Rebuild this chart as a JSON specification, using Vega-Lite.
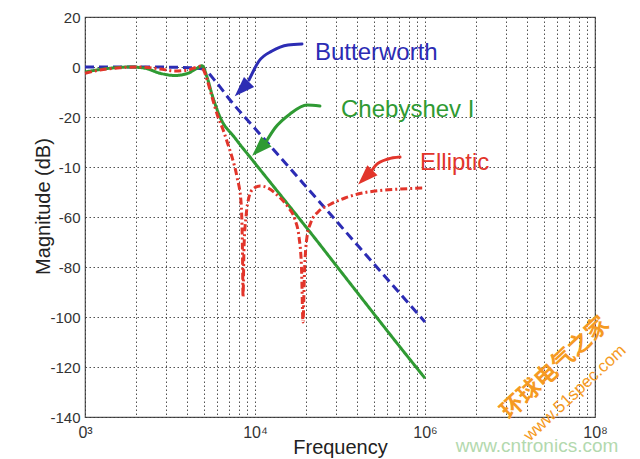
{
  "$schema": "https://vega.github.io/schema/vega-lite/v6.json",
  "width": 510,
  "height": 400,
  "autosize": {"type": "none"},
  "padding": {"left": 85, "top": 17, "right": 45, "bottom": 42},
  "background": "white",
  "config": {"view": {"stroke": "#555", "strokeWidth": 1.2}, "font": "Liberation Sans"},
  "datasets": {
    "curves": [
      {"series": "Butterworth", "f": 1000, "db": 0},
      {"series": "Butterworth", "f": 2412, "db": 0},
      {"series": "Butterworth", "f": 4146, "db": -0.3},
      {"series": "Butterworth", "f": 4946, "db": -0.8},
      {"series": "Butterworth", "f": 5818, "db": -5.5},
      {"series": "Butterworth", "f": 7129, "db": -13.2},
      {"series": "Butterworth", "f": 10000, "db": -24.6},
      {"series": "Butterworth", "f": 14033, "db": -36},
      {"series": "Butterworth", "f": 24125, "db": -54.2},
      {"series": "Butterworth", "f": 41460, "db": -72.4},
      {"series": "Butterworth", "f": 71290, "db": -90.6},
      {"series": "Butterworth", "f": 100000, "db": -102},
      {"series": "Chebyshev I", "f": 1000, "db": -2},
      {"series": "Chebyshev I", "f": 1225, "db": -1},
      {"series": "Chebyshev I", "f": 1502, "db": -0.3},
      {"series": "Chebyshev I", "f": 1839, "db": 0},
      {"series": "Chebyshev I", "f": 2254, "db": -0.5},
      {"series": "Chebyshev I", "f": 2762, "db": -2.5},
      {"series": "Chebyshev I", "f": 3384, "db": -3.4},
      {"series": "Chebyshev I", "f": 4036, "db": -2.5},
      {"series": "Chebyshev I", "f": 4560, "db": -0.5},
      {"series": "Chebyshev I", "f": 4879, "db": 0.5},
      {"series": "Chebyshev I", "f": 5220, "db": -4},
      {"series": "Chebyshev I", "f": 5587, "db": -11},
      {"series": "Chebyshev I", "f": 6226, "db": -20},
      {"series": "Chebyshev I", "f": 7627, "db": -28.4},
      {"series": "Chebyshev I", "f": 10000, "db": -38.5},
      {"series": "Chebyshev I", "f": 14033, "db": -51},
      {"series": "Chebyshev I", "f": 21062, "db": -66},
      {"series": "Chebyshev I", "f": 36220, "db": -86.5},
      {"series": "Chebyshev I", "f": 71290, "db": -112},
      {"series": "Chebyshev I", "f": 100000, "db": -124.5},
      {"series": "Elliptic", "f": 1000, "db": -2.5},
      {"series": "Elliptic", "f": 1225, "db": -1.2},
      {"series": "Elliptic", "f": 1607, "db": -0.3},
      {"series": "Elliptic", "f": 2106, "db": 0},
      {"series": "Elliptic", "f": 2762, "db": -0.8},
      {"series": "Elliptic", "f": 3384, "db": -1.6},
      {"series": "Elliptic", "f": 4146, "db": -1},
      {"series": "Elliptic", "f": 4749, "db": 0.3},
      {"series": "Elliptic", "f": 5012, "db": -1.5},
      {"series": "Elliptic", "f": 5220, "db": -5},
      {"series": "Elliptic", "f": 5587, "db": -12},
      {"series": "Elliptic", "f": 6060, "db": -20},
      {"series": "Elliptic", "f": 6483, "db": -25},
      {"series": "Elliptic", "f": 6937, "db": -31},
      {"series": "Elliptic", "f": 7324, "db": -36},
      {"series": "Elliptic", "f": 7836, "db": -44},
      {"series": "Elliptic", "f": 8276, "db": -54},
      {"series": "Elliptic", "f": 8445, "db": -75},
      {"series": "Elliptic", "f": 8502, "db": -92},
      {"series": "Elliptic", "f": 8617, "db": -72},
      {"series": "Elliptic", "f": 8853, "db": -60},
      {"series": "Elliptic", "f": 9220, "db": -52},
      {"series": "Elliptic", "f": 9730, "db": -48.8},
      {"series": "Elliptic", "f": 10700, "db": -47.6},
      {"series": "Elliptic", "f": 11930, "db": -48.4},
      {"series": "Elliptic", "f": 13660, "db": -51.5},
      {"series": "Elliptic", "f": 15640, "db": -56},
      {"series": "Elliptic", "f": 17190, "db": -61},
      {"series": "Elliptic", "f": 18150, "db": -68},
      {"series": "Elliptic", "f": 18770, "db": -80},
      {"series": "Elliptic", "f": 19160, "db": -102},
      {"series": "Elliptic", "f": 19550, "db": -82},
      {"series": "Elliptic", "f": 20220, "db": -68},
      {"series": "Elliptic", "f": 21350, "db": -62},
      {"series": "Elliptic", "f": 23480, "db": -58},
      {"series": "Elliptic", "f": 27620, "db": -55},
      {"series": "Elliptic", "f": 33840, "db": -52.4},
      {"series": "Elliptic", "f": 41460, "db": -50.6},
      {"series": "Elliptic", "f": 54370, "db": -49.4},
      {"series": "Elliptic", "f": 71290, "db": -48.8},
      {"series": "Elliptic", "f": 100000, "db": -48.4}
    ],
    "arrows": [
      {"series": "Butterworth", "f": 18900, "db": 9.2},
      {"series": "Butterworth", "f": 15640, "db": 8.8},
      {"series": "Butterworth", "f": 12590, "db": 6.4},
      {"series": "Butterworth", "f": 10560, "db": 2.4},
      {"series": "Butterworth", "f": 9220, "db": -5.2},
      {"series": "Chebyshev I", "f": 24100, "db": -15.6},
      {"series": "Chebyshev I", "f": 20200, "db": -15.2},
      {"series": "Chebyshev I", "f": 16070, "db": -18.8},
      {"series": "Chebyshev I", "f": 13110, "db": -24.4},
      {"series": "Chebyshev I", "f": 11600, "db": -30},
      {"series": "Elliptic", "f": 71300, "db": -36},
      {"series": "Elliptic", "f": 60600, "db": -36.8},
      {"series": "Elliptic", "f": 51500, "db": -39.2},
      {"series": "Elliptic", "f": 48400, "db": -41.6}
    ],
    "heads": [
      {"series": "Butterworth", "f": 8650, "db": -7.9},
      {"series": "Chebyshev I", "f": 10950, "db": -31.7},
      {"series": "Elliptic", "f": 46000, "db": -43.2}
    ],
    "labels": [
      {"series": "Butterworth", "f": 22540, "db": 2.8},
      {"series": "Chebyshev I", "f": 32060, "db": -20},
      {"series": "Elliptic", "f": 93460, "db": -41.2}
    ]
  },
  "encoding": {
    "x": {
      "field": "f",
      "type": "quantitative",
      "scale": {"type": "log", "domain": [1000, 1000000], "nice": false},
      "axis": {
        "values": [1000, 2000, 3000, 4000, 5000, 6000, 7000, 8000, 9000, 10000, 20000, 30000, 40000, 50000, 60000, 70000, 80000, 90000, 100000, 200000, 300000, 400000, 500000, 600000, 700000, 800000, 900000, 1000000],
        "labelExpr": "datum.value == 1000 ? '0³' : datum.value == 10000 ? '10⁴' : datum.value == 100000 ? '10⁶' : datum.value == 1000000 ? '10⁸' : ''",
        "title": "Frequency",
        "titleFont": "Liberation Sans",
        "titleFontSize": 20,
        "titleFontWeight": "normal",
        "titleColor": "#222",
        "titleX": 255,
        "titleY": 36,
        "titleAlign": "center",
        "titleBaseline": "alphabetic",
        "labelFont": "Liberation Sans",
        "labelFontSize": 16,
        "labelColor": "#333",
        "labelPadding": 20,
        "labelBaseline": "alphabetic",
        "labelFlush": false,
        "labelOverlap": false,
        "ticks": false,
        "tickSize": 0,
        "domain": false,
        "grid": true,
        "gridColor": "#333",
        "gridDash": [1.5, 2.5],
        "gridWidth": 1,
        "gridOpacity": 0.85
      }
    },
    "y": {
      "field": "db",
      "type": "quantitative",
      "scale": {"domain": [-140, 20], "nice": false, "zero": false},
      "axis": {
        "values": [-140, -120, -100, -80, -60, -40, -20, 0, 20],
        "labelExpr": "datum.value == -40 ? '-10' : '' + datum.value",
        "title": "Magnitude (dB)",
        "titleFont": "Liberation Sans",
        "titleFontSize": 20,
        "titleFontWeight": "normal",
        "titleColor": "#222",
        "titleAngle": -90,
        "titleX": -36,
        "titleY": 189,
        "titleAlign": "center",
        "titleBaseline": "alphabetic",
        "labelFont": "Liberation Sans",
        "labelFontSize": 15,
        "labelColor": "#333",
        "labelPadding": 5,
        "labelBaseline": "middle",
        "ticks": false,
        "tickSize": 0,
        "domain": false,
        "grid": true,
        "gridColor": "#333",
        "gridDash": [1.5, 2.5],
        "gridWidth": 1,
        "gridOpacity": 0.85
      }
    }
  },
  "layer": [
    {
      "data": {"name": "curves"},
      "mark": {"type": "line", "strokeWidth": 3, "interpolate": "monotone"},
      "encoding": {
        "color": {"field": "series", "type": "nominal", "scale": {"domain": ["Butterworth", "Chebyshev I", "Elliptic"], "range": ["#2c2cb4", "#2f9a33", "#e2352b"]}, "legend": null},
        "strokeDash": {"field": "series", "type": "nominal", "scale": {"domain": ["Butterworth", "Chebyshev I", "Elliptic"], "range": [[9, 5], [1, 0], [7, 3, 2, 3]]}, "legend": null}
      }
    },
    {
      "data": {"name": "arrows"},
      "mark": {"type": "line", "strokeWidth": 3, "interpolate": "monotone", "strokeCap": "round"},
      "encoding": {
        "color": {"field": "series", "type": "nominal", "legend": null}
      }
    },
    {
      "data": {"name": "heads"},
      "mark": {"type": "point", "shape": "M0,-1.5L-0.8,0.75L0.8,0.75Z", "filled": true, "size": 324, "angle": 225, "opacity": 1, "strokeWidth": 0},
      "encoding": {
        "color": {"field": "series", "type": "nominal", "legend": null}
      }
    },
    {
      "data": {"name": "labels"},
      "mark": {"type": "text", "font": "Liberation Sans", "fontSize": 24, "align": "left", "baseline": "alphabetic"},
      "encoding": {
        "text": {"field": "series"},
        "color": {"field": "series", "type": "nominal", "legend": null}
      }
    },
    {
      "data": {"values": [{"f": 456000, "db": -154, "label": "www.cntronics.com"}]},
      "mark": {"type": "text", "font": "Liberation Sans", "fontSize": 19, "align": "center", "baseline": "alphabetic", "color": "#b3d9ae"},
      "encoding": {"text": {"field": "label"}}
    },
    {
      "data": {"values": [{"f": 581800, "db": -120.4, "label": "环球电气之家"}]},
      "mark": {"type": "text", "font": "Noto Sans CJK SC", "fontSize": 23, "fontWeight": "bold", "align": "center", "baseline": "middle", "angle": -43, "color": "#f59a23"},
      "encoding": {"text": {"field": "label"}}
    },
    {
      "data": {"values": [{"f": 762500, "db": -130.4, "label": "www.51spec.com"}]},
      "mark": {"type": "text", "font": "Liberation Sans", "fontSize": 17, "align": "center", "baseline": "middle", "angle": -43, "color": "#f59a23"},
      "encoding": {"text": {"field": "label"}}
    }
  ]
}
